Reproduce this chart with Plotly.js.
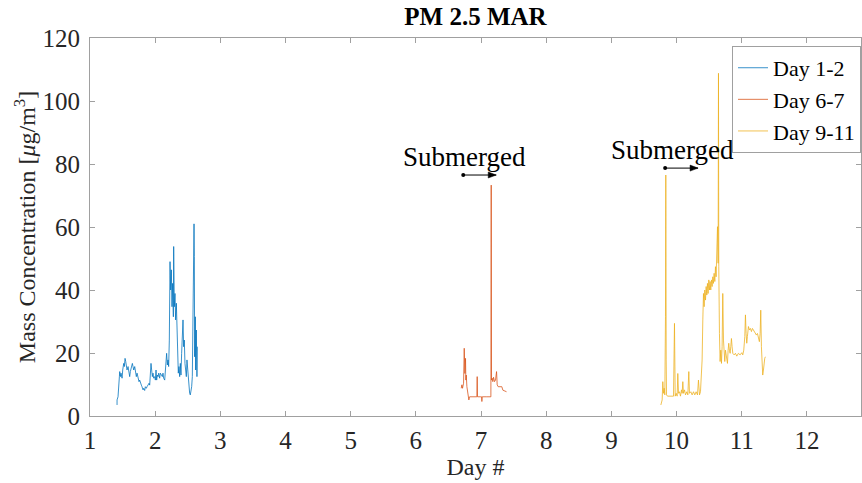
<!DOCTYPE html>
<html>
<head>
<meta charset="utf-8">
<script src="https://cdn.plot.ly/plotly-3.0.1.min.js"></script>
<style>html,body{margin:0;padding:0;background:#fff;}#chart{width:862px;height:483px;}</style>
</head>
<body>
<div id="chart"></div>
<script>
// Day 1-2
const blueX = [1.415,1.415,1.430,1.441,1.451,1.456,1.466,1.476,1.492,1.502,1.517,1.527,1.538,1.548,1.558,1.568,1.584,1.594,1.609,1.619,1.635,1.650,1.660,1.671,1.686,1.701,1.711,1.722,1.737,1.752,1.762,1.773,1.788,1.798,1.814,1.824,1.839,1.849,1.865,1.875,1.890,1.906,1.916,1.926,1.936,1.946,1.957,1.967,1.977,1.992,2.003,2.013,2.023,2.033,2.044,2.054,2.069,2.079,2.095,2.110,2.120,2.130,2.146,2.156,2.166,2.176,2.187,2.197,2.207,2.217,2.228,2.238,2.248,2.258,2.268,2.279,2.284,2.294,2.304,2.314,2.325,2.335,2.345,2.355,2.365,2.376,2.386,2.396,2.406,2.417,2.427,2.437,2.447,2.457,2.468,2.478,2.488,2.498,2.509,2.519,2.529,2.539,2.550,2.560,2.570,2.580,2.590,2.596,2.601,2.606,2.616,2.621,2.631,2.641,2.647];
const blueY = [3.5,5.1,6.1,8.3,12.5,14.1,12.5,13.6,12.0,14.6,16.7,15.7,18.3,17.3,16.2,14.6,15.7,13.6,12.5,14.1,15.1,16.7,15.7,14.6,15.7,14.1,12.5,13.6,12.0,10.9,11.4,10.4,9.8,9.3,8.3,8.8,8.1,9.3,8.8,9.3,9.8,10.4,9.8,13.6,16.7,14.6,12.5,13.6,12.0,12.5,11.4,14.6,11.4,13.0,12.5,13.6,12.0,13.6,13.0,12.5,13.6,12.0,11.4,13.6,16.7,19.9,16.2,17.8,15.7,24.1,49.0,40.0,46.4,34.7,42.1,31.5,53.8,34.7,38.9,30.5,35.8,24.1,19.4,13.6,15.7,12.5,16.7,13.0,19.9,25.2,30.5,22.0,24.1,16.7,14.6,12.5,17.8,14.6,11.4,8.3,7.2,6.7,8.3,9.3,12.5,28.4,37.9,61.0,50.6,18.8,31.5,14.6,27.3,12.5,22.0];

// Day 6-7
const orangeX = [6.696,6.706,6.716,6.732,6.742,6.752,6.762,6.767,6.773,6.783,6.793,6.803,6.813,6.824,6.834,6.885,6.926,6.936,6.941,6.946,6.987,7.008,7.013,7.018,7.089,7.151,7.156,7.161,7.171,7.181,7.192,7.207,7.222,7.238,7.248,7.263,7.284,7.304,7.319,7.335,7.355,7.376,7.391];
const orangeY = [8.8,9.9,8.8,10.4,21.5,13.5,18.3,11.4,13.0,9.3,7.2,6.1,5.1,6.1,6.1,6.1,6.1,6.1,12.5,6.1,6.1,6.1,4.6,6.1,6.1,6.1,73.3,11.4,12.0,10.9,12.3,10.9,11.4,14.1,9.9,9.3,9.3,9.3,9.3,8.2,8.0,7.7,7.7];

// Day 9-11
const yellowX = [9.759,9.769,9.779,9.789,9.800,9.810,9.820,9.830,9.835,9.841,9.846,9.861,9.892,9.927,9.953,9.968,9.979,9.994,10.009,10.019,10.030,10.045,10.060,10.076,10.086,10.096,10.106,10.122,10.137,10.157,10.173,10.188,10.198,10.219,10.239,10.260,10.280,10.300,10.321,10.336,10.352,10.367,10.382,10.392,10.403,10.413,10.423,10.433,10.444,10.454,10.464,10.474,10.484,10.495,10.505,10.515,10.525,10.536,10.546,10.556,10.566,10.576,10.587,10.597,10.607,10.617,10.628,10.638,10.643,10.648,10.658,10.668,10.679,10.689,10.699,10.709,10.720,10.730,10.740,10.750,10.760,10.771,10.781,10.791,10.801,10.811,10.822,10.832,10.842,10.852,10.863,10.883,10.903,10.924,10.949,10.975,11.001,11.016,11.031,11.047,11.057,11.067,11.077,11.087,11.103,11.118,11.133,11.149,11.164,11.179,11.195,11.210,11.225,11.241,11.256,11.271,11.282,11.292,11.302,11.312,11.322,11.333,11.343,11.353,11.363];
const yellowY = [3.5,5.1,5.1,10.9,7.2,8.8,6.7,31.5,76.5,17.8,6.7,6.3,6.3,6.3,6.3,29.4,6.3,7.2,6.3,13.5,7.2,7.7,6.3,8.3,7.2,10.9,7.2,8.3,6.7,7.7,6.7,14.1,7.2,7.7,6.7,7.7,6.7,7.7,6.7,11.4,6.7,7.7,13.5,17.8,30.5,38.9,34.7,40.0,36.8,41.1,38.4,42.1,38.9,43.2,40.0,42.7,40.0,43.2,41.1,44.2,42.1,45.3,42.7,47.4,44.2,49.5,60.1,48.5,108.8,47.4,26.2,17.3,20.9,16.7,22.0,38.9,24.1,19.9,17.3,20.9,19.9,18.3,16.7,20.9,23.1,20.9,19.9,22.0,24.6,22.0,19.9,19.4,19.9,19.0,19.9,19.4,20.1,19.4,20.9,25.2,32.1,26.2,23.1,25.2,28.4,27.3,27.8,26.8,27.8,27.3,26.8,26.2,25.7,26.2,25.2,23.6,26.2,33.6,22.0,17.8,13.0,14.6,17.8,18.3,18.8];

const seriesNames = ['Day 1-2','Day 6-7','Day 9-11'];
const seriesColors = ['#0072BD','#D95319','#EDB120'];
const xTicks = [1,2,3,4,5,6,7,8,9,10,11,12];
const yTicks = [0,20,40,60,80,100,120];

// "Submerged" notes (data units): label position and arrow from x0 to x1 at level y
const noteLabels = ['Submerged','Submerged'];
const noteTextX = [6.74, 9.93];
const noteTextY = [82.3, 84.4];
const noteArrowX0 = [6.727, 9.825];
const noteArrowX1 = [7.233, 10.33];
const noteArrowY = [76.5, 78.7];

const FONT = 'Liberation Serif, Times New Roman, serif';
const xs = [blueX, orangeX, yellowX];
const ys = [blueY, orangeY, yellowY];
const traces = xs.map((x,i)=>({
  x: x, y: ys[i], type:'scatter', mode:'lines', name: seriesNames[i],
  line:{color: seriesColors[i], width:1}, opacity:0.78
}));

const annotations = [];
const shapes = [];
noteLabels.forEach((lab,i)=>{
  annotations.push({x:noteTextX[i], y:noteTextY[i], xref:'x', yref:'y', text:lab, showarrow:false,
    font:{family:FONT, size:27, color:'#000'}});
  shapes.push({type:'line', xref:'x', yref:'y', x0:noteArrowX0[i], x1:noteArrowX1[i],
    y0:noteArrowY[i], y1:noteArrowY[i], line:{color:'#000', width:1}});
  shapes.push({type:'circle', xref:'x', yref:'y', xsizemode:'pixel', ysizemode:'pixel',
    xanchor:noteArrowX0[i], yanchor:noteArrowY[i], x0:-2, x1:2, y0:-2, y1:2,
    fillcolor:'#000', line:{color:'#000', width:0}});
  shapes.push({type:'path', xref:'x', yref:'y', xsizemode:'pixel', ysizemode:'pixel',
    xanchor:noteArrowX1[i], yanchor:noteArrowY[i], path:'M0,0 L-8,3 L-8,-3 Z',
    fillcolor:'#000', line:{color:'#000', width:0.5}});
});

const axisCommon = {
  showline:true, mirror:'ticks', linecolor:'#a0a0a0', linewidth:1,
  ticks:'inside', ticklen:5, tickcolor:'#a0a0a0', showgrid:false, zeroline:false,
  tickfont:{family:FONT, size:25, color:'#262626'}
};

const layout = {
  width:862, height:483,
  margin:{l:90, r:1, t:38, b:67},
  paper_bgcolor:'#fff', plot_bgcolor:'#fff',
  font:{family:FONT, color:'#262626'},
  title:{text:'<b>PM 2.5 MAR</b>', font:{family:FONT, size:25, color:'#000'},
    x:0.5, xref:'paper', y:1-16/483, yref:'container', yanchor:'middle'},
  xaxis:Object.assign({}, axisCommon, {range:[1,12.83], tickvals:xTicks, ticklabelstandoff:2,
    title:{text:'Day #', font:{family:FONT, size:24, color:'#262626'}, standoff:4}}),
  yaxis:Object.assign({}, axisCommon, {range:[0,120], tickvals:yTicks, ticklabelstandoff:4,
    title:{text:'Mass Concentration [<i>μ</i>g/m<sup>3</sup>]', font:{family:FONT, size:24, color:'#262626'}, standoff:0}}),
  legend:{x:1, xanchor:'right', y:0.979, yanchor:'top', bgcolor:'#fff',
    bordercolor:'#a0a0a0', borderwidth:1, font:{family:FONT, size:22, color:'#000'},
    tracegroupgap:0, itemwidth:30},
  showlegend:true,
  annotations: annotations,
  shapes: shapes
};

Plotly.newPlot('chart', traces, layout, {displayModeBar:false, staticPlot:true});
</script>
</body>
</html>
